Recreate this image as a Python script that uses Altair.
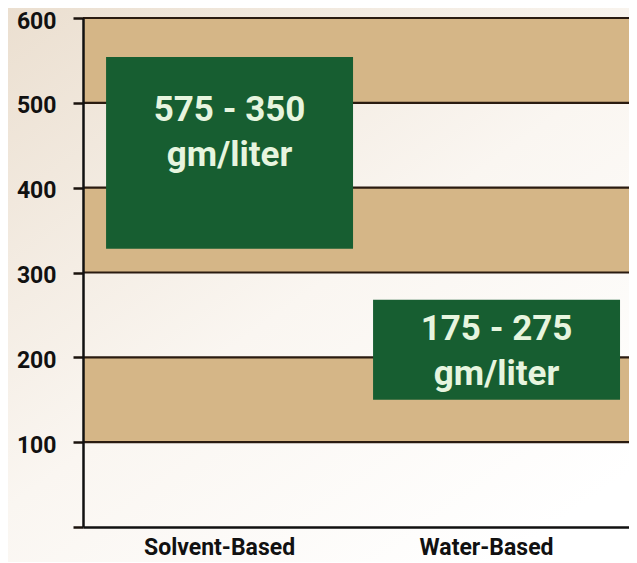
import altair as alt
import pandas as pd

# ---- data ----
categories = ["Solvent-Based", "Water-Based"]
range_low = [328, 150]
range_high = [554, 268]
range_labels = ["575 - 350\ngm/liter", "175 - 275\ngm/liter"]
band_low = [100, 300, 500]
band_high = [200, 400, 600]
grid_values = [100, 200, 300, 400, 500, 600]
tick_values = [0, 100, 200, 300, 400, 500, 600]

W, H = 546, 509
FONT = "Roboto, Liberation Sans, sans-serif"

bars_df = pd.DataFrame({"category": categories, "low": range_low,
                        "high": range_high, "label": range_labels})
bands_df = pd.DataFrame({"low": band_low, "high": band_high})
grid_df = pd.DataFrame({"value": grid_values})

yscale = alt.Scale(domain=[0, 600], nice=False, zero=True)
yaxis = alt.Axis(title=None, values=tick_values, grid=False, tickSize=10,
                 tickWidth=2.5, tickColor="#1a120c", domainColor="#111111",
                 domainWidth=2.5, labelFont=FONT, labelFontSize=23,
                 labelFontWeight="bold", labelColor="#111111", labelPadding=17,
                 labelOffset=3,
                 labelExpr="datum.value == 0 ? '' : datum.label", zindex=1)
xscale = alt.Scale(domain=categories, paddingInner=0.075, paddingOuter=0.06,
                   align=0.72)
xaxis = alt.Axis(title=None, ticks=False, domainColor="#111111",
                 domainWidth=2.5, labelFont=FONT, labelFontSize=23,
                 labelFontWeight="bold", labelColor="#111111", labelAngle=0,
                 labelPadding=9, labelOffset=-10, labelLimit=0, zindex=1)

gradient = alt.LinearGradient(
    gradient="linear",
    stops=[alt.GradientStop(color="#ebdfd0", offset=0),
           alt.GradientStop(color="#faf6f1", offset=0.55),
           alt.GradientStop(color="#ffffff", offset=1)],
    x1=0, y1=0, x2=0.8, y2=1)

bg = alt.Chart(pd.DataFrame({"k": [0]})).mark_rect(
    color=gradient, clip=False).encode(
    x=alt.value(-75), x2=alt.value(W), y=alt.value(-10), y2=alt.value(H + 35))

bands = alt.Chart(bands_df).mark_rect(color="#d5b687").encode(
    x=alt.value(0), x2=alt.value(W),
    y=alt.Y("low:Q", scale=yscale, axis=yaxis), y2="high:Q")

grid = alt.Chart(grid_df).mark_rule(color="#2a1b10", strokeWidth=2.2).encode(
    x=alt.value(0), x2=alt.value(W),
    y=alt.Y("value:Q", scale=yscale, axis=yaxis))

bars = alt.Chart(bars_df).mark_bar(color="#175e31").encode(
    x=alt.X("category:N", scale=xscale, axis=xaxis, sort=categories),
    y=alt.Y("low:Q", scale=yscale, axis=yaxis), y2="high:Q")


def label_layer(cat, dy):
    return alt.Chart(bars_df).transform_filter(
        alt.datum.category == cat).mark_text(
        align="center", baseline="alphabetic", dy=dy, lineBreak="\n",
        lineHeight=45, font=FONT, fontSize=35, fontWeight="bold",
        color="#e7f5df").encode(
        x=alt.X("category:N", scale=xscale, axis=xaxis, sort=categories),
        y=alt.Y("high:Q", scale=yscale, axis=yaxis),
        text="label:N")


chart = alt.layer(
    bg, bands, grid, bars,
    label_layer("Solvent-Based", 64),
    label_layer("Water-Based", 40),
).properties(
    width=W, height=H,
    autosize=alt.AutoSizeParams(type="none"),
    padding={"left": 75, "top": 10, "right": 0, "bottom": 35},
    background="#ffffff",
).configure_view(stroke=None)

chart.save("out.html", embed_options={"renderer": "svg", "actions": False})
